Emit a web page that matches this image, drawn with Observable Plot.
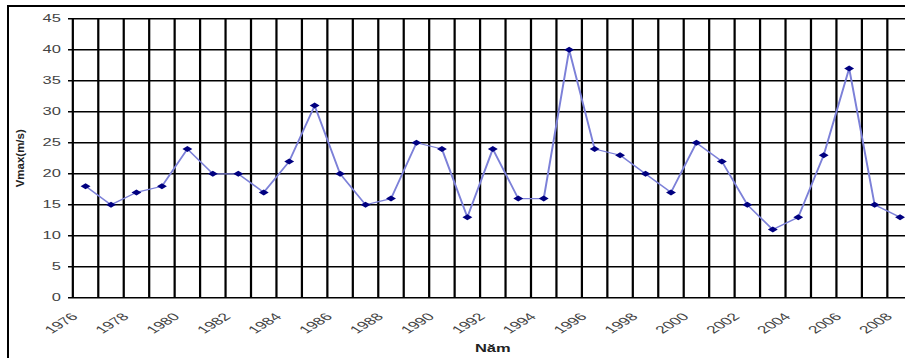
<!DOCTYPE html>
<html>
<head>
<meta charset="utf-8">
<script src="https://cdn.jsdelivr.net/npm/d3@7"></script>
<script src="https://cdn.jsdelivr.net/npm/@observablehq/plot@0.6"></script>
<style>
  html, body { margin: 0; padding: 0; background: #fff; overflow: hidden; width: 905px; height: 358px; }
  #chart { position: absolute; left: 0; top: 0; }
  #chart svg { transform: scaleX(1.65); transform-origin: 0 0; }
  #frame { position: absolute; left: 7px; top: 5px; width: 1200px; height: 1200px;
           border: 2.5px solid #000; pointer-events: none; z-index: 2; }
</style>
</head>
<body>
<div id="chart"></div>
<div id="frame"></div>
<script>
// Yearly maximum wind speed (m/s)
const years = [1976, 1977, 1978, 1979, 1980, 1981, 1982, 1983, 1984, 1985, 1986,
               1987, 1988, 1989, 1990, 1991, 1992, 1993, 1994, 1995, 1996, 1997,
               1998, 1999, 2000, 2001, 2002, 2003, 2004, 2005, 2006, 2007, 2008];
const vmax = [18, 15, 17, 18, 24, 20, 20, 17, 22, 31, 20,
              15, 16, 25, 24, 13, 24, 16, 16, 40, 24, 23,
              20, 17, 25, 22, 15, 11, 13, 23, 37, 15, 13];
const yTicks = [0, 5, 10, 15, 20, 25, 30, 35, 40, 45];
const xTickLabels = ["1976", "1978", "1980", "1982", "1984", "1986", "1988", "1990", "1992",
                     "1994", "1996", "1998", "2000", "2002", "2004", "2006", "2008"];
const xTitle = "Năm";
const yTitle = "Vmax(m/s)";

// The chart is laid out narrow and stretched horizontally by the CSS transform.
const sx = 1.65;
const fullWidth = 925, H = 358;
const frameLeft = 72, frameRight = 912, frameTop = 18.3, frameBottom = 297.3;

// category boundaries (one column per year)
const edges = years.map(y => y - 0.5).concat([years[years.length - 1] + 0.5]);
const data = years.map((year, i) => ({year, v: vmax[i]}));

const chart = Plot.plot({
  width: fullWidth / sx,
  height: H,
  marginLeft: frameLeft / sx,
  marginRight: (fullWidth - frameRight) / sx,
  marginTop: frameTop,
  marginBottom: H - frameBottom,
  x: {type: "linear", domain: [edges[0], edges[edges.length - 1]], axis: null},
  y: {domain: [0, 45], axis: null},
  style: {fontFamily: "'Liberation Sans', Arial, sans-serif", background: "transparent"},
  marks: [
    Plot.ruleY(yTicks, {y: d => d, stroke: "#000", strokeWidth: 1.4, insetLeft: -4 / sx}),
    Plot.ruleX(edges, {x: d => d, stroke: "#000", strokeWidth: 1.35}),
    Plot.line(data, {x: "year", y: "v", stroke: "#7c80d8", strokeWidth: 1.2}),
    Plot.dot(data, {x: "year", y: "v", symbol: "diamond2", r: 2.7, fill: "#000080"}),
    Plot.text(yTicks, {y: d => d, text: d => String(d), frameAnchor: "left", textAnchor: "end",
                       dx: -12 / sx, fontSize: 10, fill: "#444"}),
    Plot.text(xTickLabels, {x: d => +d, text: d => d, frameAnchor: "bottom", textAnchor: "end",
                            lineAnchor: "bottom", rotate: -45, dx: -6.7 / sx, dy: 19.7,
                            fontSize: 10.5, fill: "#444"}),
    Plot.text([xTitle], {text: d => d, frameAnchor: "bottom", textAnchor: "middle", lineAnchor: "bottom",
                         dy: 54.7, fontWeight: "bold", fontSize: 10, fill: "#222"}),
    Plot.text([yTitle], {text: d => d, frameAnchor: "left", textAnchor: "middle", rotate: -90,
                         lineAnchor: "bottom", dx: (23.5 - frameLeft) / sx,
                         fontWeight: "bold", fontSize: 11.5, fill: "#222"})
  ]
});

// keep the vertical axis title at its natural proportions
chart.querySelectorAll("text").forEach(t => {
  if (t.textContent === yTitle) {
    const tr = t.getAttribute("transform") || "";
    t.setAttribute("transform", tr.replace("rotate", `scale(${1 / sx},1) rotate`));
  }
});

document.getElementById("chart").append(chart);
</script>
</body>
</html>
